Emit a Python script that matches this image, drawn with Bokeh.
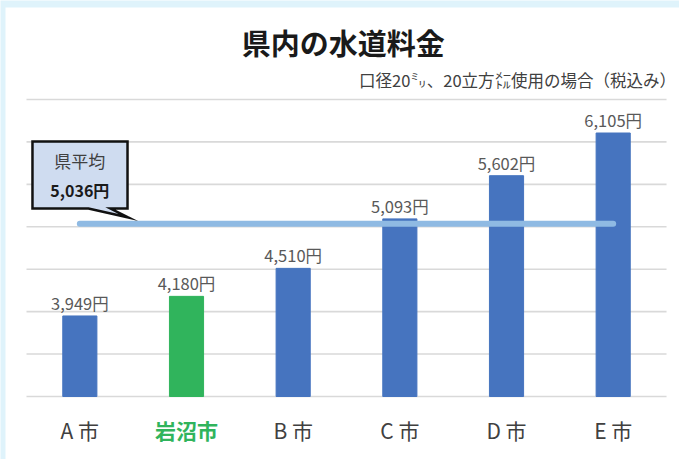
from bokeh.plotting import figure
from bokeh.models import Range1d
from bokeh.core.properties import value
from bokeh.embed import file_html
from bokeh.resources import INLINE

# ---- data ----
cities = ["A 市", "岩沼市", "B 市", "C 市", "D 市", "E 市"]
fees = [3949, 4180, 4510, 5093, 5602, 6105]
fee_labels = ["3,949円", "4,180円", "4,510円", "5,093円", "5,602円", "6,105円"]
bar_colors = ["#4674bf", "#30b45c", "#4674bf", "#4674bf", "#4674bf", "#4674bf"]
label_colors = ["#404040", "#30b45c", "#404040", "#404040", "#404040", "#404040"]
label_styles = ["normal", "bold", "normal", "normal", "normal", "normal"]
average = 5036
average_label = "5,036円"
grid_ticks = [3000, 3500, 4000, 4500, 5000, 5500, 6000, 6500]
title_text = "県内の水道料金"
subtitle_text = "口径20㍉、20立方㍍使用の場合（税込み）"

FONT = "Noto Sans CJK JP"

W, H = 679, 459
PX_X = 106.67          # px per category
PX_Y = 0.08486         # px per yen
X0_PX, Y0_PX = 26, 396  # page position of (0, 3000)
x_start = -X0_PX / PX_X
x_end = (W - X0_PX) / PX_X
y_end = 3000 + Y0_PX / PX_Y
y_start = 3000 - (H - Y0_PX) / PX_Y

p = figure(width=W, height=H, output_backend="svg", toolbar_location=None,
           x_range=Range1d(x_start, x_end), y_range=Range1d(y_start, y_end),
           x_axis_location=None, y_axis_location=None,
           min_border=0)
p.outline_line_color = None
p.xgrid.visible = False
p.ygrid.visible = False
p.background_fill_color = "#dff3fb"
p.border_fill_color = "#dff3fb"

# white panel
p.quad(left=x_start + 5 / PX_X, right=x_end + 1, top=y_end - 7 / PX_Y,
       bottom=y_start - 100, fill_color="white", line_color=None)

# horizontal grid lines
n = len(cities)
p.segment(x0=[0] * len(grid_ticks), x1=[n] * len(grid_ticks),
          y0=grid_ticks, y1=grid_ticks, line_color="#d9d9d9", line_width=1.6)

xs = [i + 0.5 for i in range(n)]

p.vbar(x=xs, top=fees, bottom=grid_ticks[0], width=0.32, color=bar_colors)

p.text(x=xs, y=fees, text=fee_labels, text_align="center",
       text_baseline="bottom", y_offset=-1, text_font=value(FONT),
       text_font_size="16.5px", text_color="#595959")

# average line
p.line(x=[xs[0], xs[-1]], y=[average, average], line_width=6,
       line_color="#8fbae3", line_cap="round")

# callout bubble
bx = [0.056, 0.947, 0.947, 0.788, 0.956, 0.581, 0.056]
by = [6005, 6005, 5215, 5215, 5109, 5215, 5215]
p.patch(x=bx, y=by, fill_color="#cfdcf0", line_color="#111111",
        line_width=2.5, line_join="miter")
p.text(x=[0.5], y=[5781], text=["県平均"], text_align="center",
       text_baseline="middle", text_font=value(FONT), text_font_size="17px",
       text_color="#404040")
p.text(x=[0.5], y=[5428], text=[average_label], text_align="center",
       text_baseline="middle", text_font=value(FONT), text_font_size="16px",
       text_font_style="bold", text_color="#1a1a1a")

# category labels
p.text(x=xs, y=[2605] * n, text=cities, text_align="center",
       text_baseline="middle", text_font=value(FONT), text_font_size="21px",
       text_color=label_colors, text_font_style=label_styles)

# titles
p.text(x=[2.97], y=[7175], text=[title_text], text_align="center",
       text_baseline="middle", text_font=value(FONT), text_font_size="29px",
       text_font_style="bold", text_color="#1a1a1a")
p.text(x=[6.09], y=[6724], text=[subtitle_text], text_align="right",
       text_baseline="middle", text_font=value(FONT), text_font_size="16.5px",
       text_color="#404040")

open("out.html", "w").write(file_html(p, INLINE))
